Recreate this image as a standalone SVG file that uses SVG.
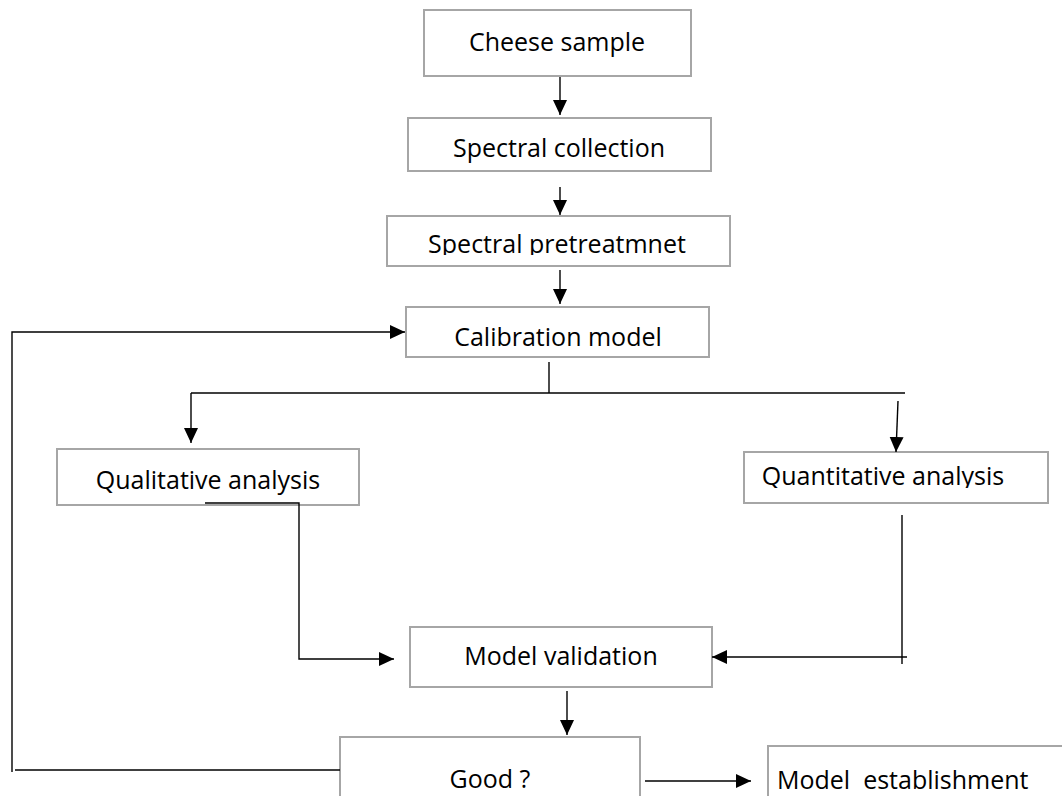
<svg xmlns="http://www.w3.org/2000/svg" width="1062" height="796" viewBox="0 0 1062 796">
<defs>
<style>
.box{fill:#fff;stroke:#a6a6a6;stroke-width:2}
.lbl{font-family:"Open Sans","Liberation Sans",sans-serif;font-size:25px;fill:#000}
.con{fill:none;stroke:#000;stroke-width:1.4}
</style>
<marker id="ah" markerUnits="userSpaceOnUse" markerWidth="16" markerHeight="15" refX="15" refY="7" orient="auto">
<path d="M0,0 L15,7 L0,14 z" fill="#000"/>
</marker>
<clipPath id="cpPre"><rect x="387" y="216" width="343" height="39"/></clipPath>
<clipPath id="cpQuan"><rect x="744" y="452" width="304" height="36"/></clipPath>
</defs>
<rect width="1062" height="796" fill="#fff"/>
<g id="cheese">
<rect class="box" x="424" y="10" width="267" height="66"/>
<text class="lbl" x="557" y="51" text-anchor="middle">Cheese sample</text>
</g>
<g id="collection">
<rect class="box" x="408" y="118" width="303" height="53"/>
<text class="lbl" x="559" y="157" text-anchor="middle">Spectral collection</text>
</g>
<g id="pretreatment">
<rect class="box" x="387" y="216" width="343" height="50"/>
<text class="lbl" x="557" y="253" text-anchor="middle" clip-path="url(#cpPre)">Spectral pretreatmnet</text>
</g>
<g id="calibration">
<rect class="box" x="406" y="307" width="303" height="50"/>
<text class="lbl" x="558" y="346" text-anchor="middle">Calibration model</text>
</g>
<g id="qualitative">
<rect class="box" x="57" y="449" width="302" height="56"/>
<text class="lbl" x="208" y="489" text-anchor="middle">Qualitative analysis</text>
</g>
<g id="quantitative">
<rect class="box" x="744" y="452" width="304" height="51"/>
<text class="lbl" x="883" y="485" text-anchor="middle" clip-path="url(#cpQuan)">Quantitative analysis</text>
</g>
<g id="validation">
<rect class="box" x="410" y="627" width="302" height="60"/>
<text class="lbl" x="561" y="665" text-anchor="middle">Model validation</text>
</g>
<g id="good">
<rect class="box" x="340" y="737" width="300" height="75"/>
<text class="lbl" x="490" y="788" text-anchor="middle">Good ?</text>
</g>
<g id="establishment">
<rect class="box" x="768" y="746" width="310" height="64"/>
<text class="lbl" x="777" y="789" xml:space="preserve">Model  establishment</text>
</g>
<g id="connectors">
<line class="con" x1="560" y1="77" x2="560" y2="115" marker-end="url(#ah)"/>
<line class="con" x1="560" y1="187" x2="560" y2="215" marker-end="url(#ah)"/>
<line class="con" x1="560" y1="270" x2="560" y2="304" marker-end="url(#ah)"/>
<line class="con" x1="549" y1="362" x2="549" y2="393"/>
<line class="con" x1="191" y1="393" x2="905" y2="393"/>
<line class="con" x1="191" y1="393" x2="191" y2="443" marker-end="url(#ah)"/>
<line class="con" x1="898" y1="401" x2="896" y2="452" marker-end="url(#ah)"/>
<polyline class="con" points="205,503 299,503 299,659 394,659" marker-end="url(#ah)"/>
<line class="con" x1="902" y1="515" x2="902" y2="664"/>
<line class="con" x1="907" y1="657" x2="712" y2="657" marker-end="url(#ah)"/>
<line class="con" x1="567" y1="691" x2="567" y2="735" marker-end="url(#ah)"/>
<line class="con" x1="340" y1="770" x2="15" y2="770"/>
<polyline class="con" points="12,772 12,332 405,332" marker-end="url(#ah)"/>
<line class="con" x1="645" y1="781" x2="751" y2="781" marker-end="url(#ah)"/>
</g>
</svg>
